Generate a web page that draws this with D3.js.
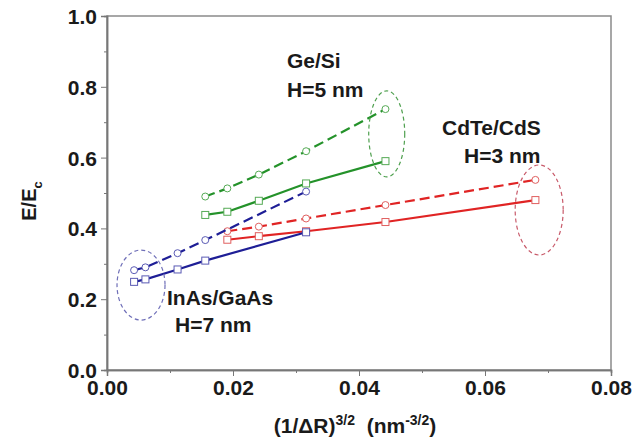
<!DOCTYPE html>
<html>
<head>
<meta charset="utf-8">
<script src="https://cdn.jsdelivr.net/npm/d3@7"></script>
<style>
  body { margin: 0; background: #fff; }
  svg text { font-family: Arial, "Liberation Sans", sans-serif; font-weight: bold; fill: #1a1a1a; }
</style>
</head>
<body>
<div id="chart"></div>
<script>
// x = (1/dR)^(3/2)
var xGeSi = [0.0156, 0.0191, 0.0241, 0.0316, 0.0442];
var geSiDash = [0.490, 0.513, 0.552, 0.618, 0.737];
var geSiSolid = [0.438, 0.447, 0.478, 0.527, 0.590];

var xCdTe = [0.0191, 0.0241, 0.0316, 0.0442, 0.0680];
var cdTeDash = [0.392, 0.405, 0.428, 0.466, 0.537];
var cdTeSolid = [0.368, 0.378, 0.392, 0.418, 0.480];

var xInAs = [0.0043, 0.0061, 0.0112, 0.0156, 0.0316];
var inAsDash = [0.282, 0.290, 0.330, 0.367, 0.504];
var inAsSolid = [0.249, 0.256, 0.284, 0.309, 0.389];

var xTicks = [0, 0.02, 0.04, 0.06, 0.08];
var yTicks = [0, 0.2, 0.4, 0.6, 0.8, 1.0];

// ellipse centres (data units) for the three groups
var ringX = [0.0054, 0.0444, 0.0686];
var ringY = [0.240, 0.667, 0.452];

var labelLines = [["Ge/Si", "H=5 nm"], ["CdTe/CdS", "H=3 nm"], ["InAs/GaAs", "H=7 nm"]];

(function() {
  var W = 642, H = 441;
  var margin = { top: 16, left: 107, right: 31, bottom: 71 };
  var width = W - margin.left - margin.right,
      height = H - margin.top - margin.bottom;

  var svg = d3.select("#chart").append("svg")
      .attr("width", W).attr("height", H)
    .append("g")
      .attr("transform", "translate(" + margin.left + "," + margin.top + ")");

  var x = d3.scaleLinear().domain([0, 0.08]).range([0, width]);
  var y = d3.scaleLinear().domain([0, 1]).range([height, 0]);

  // frame
  svg.append("rect")
    .attr("width", width).attr("height", height)
    .attr("fill", "none").attr("stroke", "#8a8a8a").attr("stroke-width", 1.5);

  // minor ticks
  var xAxisMinor = d3.axisBottom(x).tickValues(d3.range(0.01, 0.08, 0.02)).tickSize(3).tickFormat("");
  var yAxisMinor = d3.axisLeft(y).tickValues(d3.range(0.1, 1, 0.2)).tickSize(3).tickFormat("");
  svg.append("g").attr("transform", "translate(0," + height + ")").call(xAxisMinor);
  svg.append("g").call(yAxisMinor);

  var xAxis = d3.axisBottom(x).tickValues(xTicks).tickSize(6).tickPadding(4).tickFormat(d3.format(".2f"));
  var yAxis = d3.axisLeft(y).tickValues(yTicks).tickSize(6).tickPadding(4).tickFormat(d3.format(".1f"));

  svg.append("g").attr("class", "x-axis")
    .attr("transform", "translate(0," + height + ")")
    .call(xAxis);
  svg.append("g").attr("class", "y-axis").call(yAxis);

  svg.selectAll(".domain").attr("stroke", "#777").attr("stroke-width", 1.5);
  svg.selectAll(".tick line").attr("stroke", "#777");
  svg.selectAll(".x-axis text").style("font-size", "21px").attr("fill", "#1a1a1a");
  svg.selectAll(".y-axis text").style("font-size", "21px").attr("fill", "#1a1a1a").attr("dy", "0.36em");

  var series = [
    { xs: xGeSi, ys: geSiDash, color: "#24922a", mark: "#55aa55", dash: true },
    { xs: xGeSi, ys: geSiSolid, color: "#24922a", mark: "#55aa55", dash: false },
    { xs: xCdTe, ys: cdTeDash, color: "#e02424", mark: "#e06060", dash: true },
    { xs: xCdTe, ys: cdTeSolid, color: "#e02424", mark: "#e06060", dash: false },
    { xs: xInAs, ys: inAsDash, color: "#1e1e96", mark: "#5a5ab4", dash: true },
    { xs: xInAs, ys: inAsSolid, color: "#1e1e96", mark: "#5a5ab4", dash: false }
  ];

  var line = d3.line()
    .x(function(d) { return x(d[0]); })
    .y(function(d) { return y(d[1]); });

  series.forEach(function(s) {
    var pts = s.xs.map(function(v, i) { return [v, s.ys[i]]; });
    svg.append("path")
      .datum(pts)
      .attr("d", line)
      .attr("fill", "none")
      .attr("stroke", s.color)
      .attr("stroke-width", 2.2)
      .attr("stroke-dasharray", s.dash ? "10,5" : null);

    if (s.dash) {
      svg.selectAll(null).data(pts).enter().append("circle")
        .attr("cx", function(d) { return x(d[0]); })
        .attr("cy", function(d) { return y(d[1]); })
        .attr("r", 3.5)
        .attr("fill", "#fff").attr("stroke", s.mark).attr("stroke-width", 1);
    } else {
      svg.selectAll(null).data(pts).enter().append("rect")
        .attr("x", function(d) { return x(d[0]) - 3.5; })
        .attr("y", function(d) { return y(d[1]) - 3.5; })
        .attr("width", 7).attr("height", 7)
        .attr("fill", "#fff").attr("stroke", s.mark).attr("stroke-width", 1);
    }
  });

  // dashed rings round the end points
  var ringStyle = [
    { rx: 24, ry: 35, color: "#6f6fb8" },
    { rx: 18, ry: 43, color: "#4fa04f" },
    { rx: 24, ry: 45, color: "#c85a6a" }
  ];
  ringX.forEach(function(cx, i) {
    svg.append("ellipse")
      .attr("cx", x(cx)).attr("cy", y(ringY[i]))
      .attr("rx", ringStyle[i].rx).attr("ry", ringStyle[i].ry)
      .attr("fill", "none")
      .attr("stroke", ringStyle[i].color)
      .attr("stroke-width", 1.2)
      .attr("stroke-dasharray", "4,3");
  });

  // group labels
  var labelPos = [
    [[180, 52], [180, 81]],
    [[335, 119], [357, 147]],
    [[60, 289], [68, 316]]
  ];
  labelLines.forEach(function(lines, i) {
    lines.forEach(function(t, j) {
      svg.append("text")
        .attr("x", labelPos[i][j][0]).attr("y", labelPos[i][j][1])
        .style("font-size", "21px")
        .text(t);
    });
  });

  // axis titles
  var yt = svg.append("text")
    .attr("transform", "translate(" + (-71) + "," + (height / 2 + 8) + ") rotate(-90)")
    .attr("text-anchor", "middle")
    .style("font-size", "20px");
  yt.append("tspan").text("E/E");
  yt.append("tspan").attr("dy", 6).style("font-size", "13px").text("c");

  var xt = svg.append("text")
    .attr("x", width / 2 - 4).attr("y", height + 63)
    .attr("text-anchor", "middle")
    .style("font-size", "21px");
  xt.append("tspan").text("(1/\u0394R)");
  xt.append("tspan").attr("dy", -8).style("font-size", "14px").text("3/2");
  xt.append("tspan").attr("dy", 8).text("\u00a0\u00a0(nm");
  xt.append("tspan").attr("dy", -8).style("font-size", "14px").text("-3/2");
  xt.append("tspan").attr("dy", 8).text(")");
})();
</script>
</body>
</html>
